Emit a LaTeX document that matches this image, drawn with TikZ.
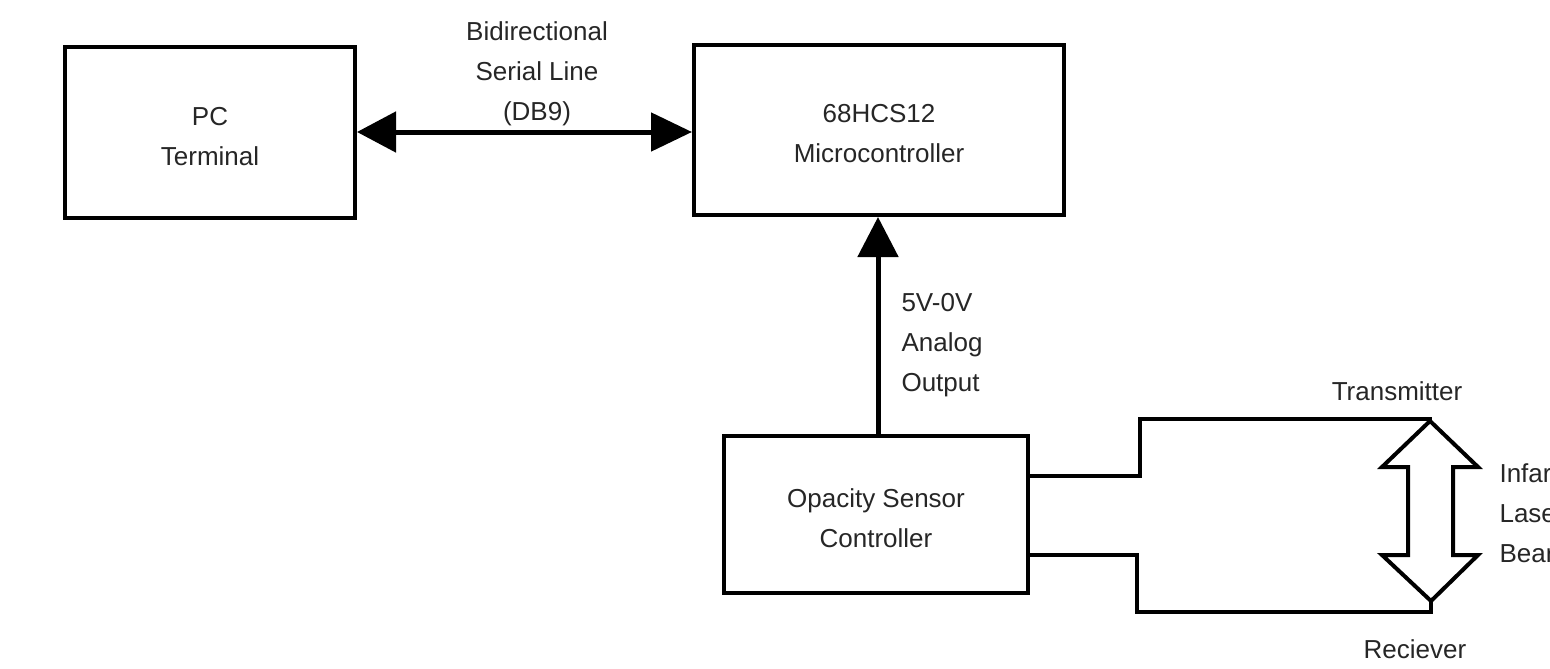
\documentclass[tikz,border=0pt]{standalone}
\usepackage{fontspec}
\setmainfont{Liberation Sans}
\usetikzlibrary{arrows.meta}
\begin{document}
\begin{tikzpicture}[x=1pt,y=-1pt,
  box/.style={draw=black,line width=4pt,rectangle,inner sep=0pt},
  txt/.style={font=\fontsize{26}{40}\selectfont,text=black!85},
  wire/.style={line width=4pt,line cap=rect},
  conn/.style={line width=5pt}]
\useasboundingbox (0,0) rectangle (1550,669);
\node[box,minimum width=290pt,minimum height=171pt] (pc) at (210,132.5) {};
\node[box,minimum width=370pt,minimum height=170pt] (mcu) at (879,130) {};
\node[box,minimum width=304pt,minimum height=157pt] (osc) at (876,514.5) {};
\node[txt,align=center] (pct) at (210,137) {PC\\Terminal};
\node[txt,align=center] (mcut) at (879,134) {68HCS12\\Microcontroller};
\node[txt,align=center] (osct) at (876,518) {Opacity Sensor\\Controller};
\node[txt,align=center] (serial) at (537,74) {Bidirectional\\Serial Line\\(DB9)};
\node[txt,align=left,anchor=west] (analog) at (898,345) {5V-0V\\Analog\\Output};
\draw[conn,{Triangle[length=39pt,width=40pt]}-{Triangle[length=41pt,width=38pt]}] (pc.east |- 0,132) -- (mcu.west |- 0,132);
\draw[conn,-{Triangle[length=40pt,width=40pt]}] (osc.north -| 878,0) -- (mcu.south -| 878,0);
\coordinate (tx) at (1430,419);
\coordinate (rx) at (1431,612);
\coordinate (txb) at (1430,421);
\coordinate (rxb) at (1431,601);
\draw[wire] (osc.east |- 0,476) -- (1140,476) -- (1140,419) -- (tx);
\draw[wire] (osc.east |- 0,555) -- (1137,555) -- (1137,612) -- (rx) -- (rxb);
\draw[line width=4pt,fill=white,line join=miter] (txb) -- (1478,467) -- (1453,467) -- (1453,555) -- (1478,555) -- (rxb) -- (1382,555) -- (1408,555) -- (1408,467) -- (1382,467) -- cycle;
\node[txt] (trans) at (1397,391) {Transmitter};
\node[txt] (recv) at (1415,649) {Reciever};
\node[txt,align=left,anchor=west] (beam) at (1496,513) {Infar\\Lase\\Bear};
\end{tikzpicture}
\end{document}
